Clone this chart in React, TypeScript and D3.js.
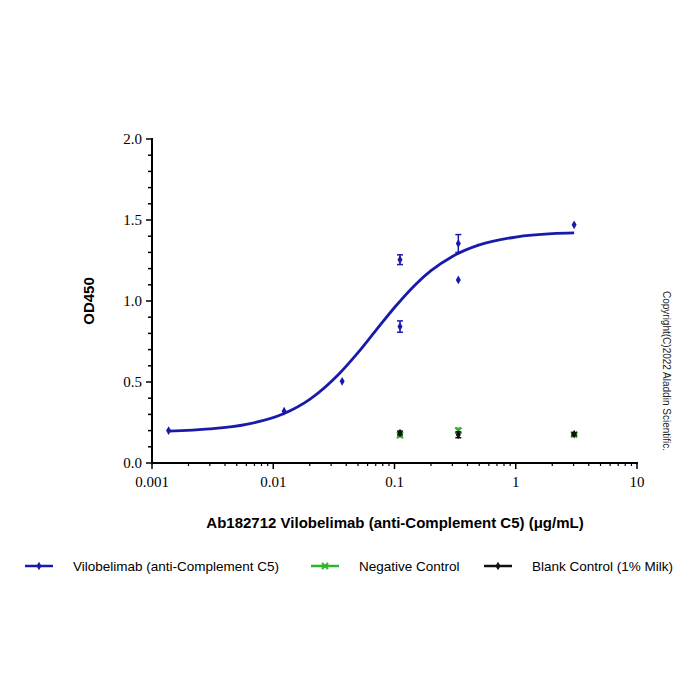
import React, { useEffect, useRef } from 'react';
import * as d3 from 'd3';

// Vilobelimab (anti-Complement C5) measured points
const vilX = [0.00137, 0.0123, 0.037, 0.111, 0.111, 0.336, 0.336, 3.03];
const vilY = [0.2, 0.32, 0.504, 1.255, 0.842, 1.355, 1.13, 1.47];
const vilErr = [0, 0, 0, 0.03, 0.035, 0.055, 0, 0];

// fitted curve
const fitX = [0.00137, 0.003, 0.006, 0.012, 0.02, 0.035, 0.05, 0.07, 0.1, 0.15, 0.2, 0.3, 0.5, 1, 2, 3.03];
const fitY = [0.197, 0.21, 0.238, 0.302, 0.393, 0.551, 0.681, 0.817, 0.96, 1.104, 1.187, 1.275, 1.346, 1.395, 1.416, 1.42];

// Negative Control
const negX = [0.111, 0.336, 3.03];
const negY = [0.172, 0.2, 0.176];
const negErr = [0.01, 0.015, 0.005];

// Blank Control (1% Milk)
const blankX = [0.111, 0.336, 3.03];
const blankY = [0.185, 0.174, 0.178];
const blankErr = [0.012, 0.018, 0.008];

const xTicks = [0.001, 0.01, 0.1, 1, 10];
const xTickLabels = ['0.001', '0.01', '0.1', '1', '10'];
const yTicks = [0, 0.5, 1.0, 1.5, 2.0];

const BLUE = '#1a1aaa';
const GREEN = '#2db52d';
const BLACK = '#111111';
const SERIF = '"Liberation Serif", "DejaVu Serif", "Times New Roman", serif';
const SANS = '"Liberation Sans", Arial, sans-serif';

const App: React.FC = () => {
  const svgRef = useRef<SVGSVGElement>(null);

  useEffect(() => {
    const svg = d3.select(svgRef.current);
    svg.selectAll('*').remove();

    const x = d3.scaleLog().domain([0.001, 10]).range([152, 637]);
    const y = d3.scaleLinear().domain([0, 2]).range([463, 139]);

    svg.append('rect').attr('width', 700).attr('height', 700).attr('fill', 'white');

    // Y axis with minor ticks
    const yMinor = d3.range(0, 2.0001, 0.1);
    svg.append('g')
      .selectAll('line')
      .data(yMinor)
      .enter()
      .append('line')
      .attr('x1', 152)
      .attr('x2', d => (yTicks.some(t => Math.abs(t - d) < 1e-6) ? 146 : 148))
      .attr('y1', d => y(d))
      .attr('y2', d => y(d))
      .attr('stroke', '#000')
      .attr('stroke-width', 1.5);

    svg.append('g')
      .selectAll('text')
      .data(yTicks)
      .enter()
      .append('text')
      .attr('x', 142)
      .attr('y', d => y(d) + 5)
      .attr('text-anchor', 'end')
      .style('font-family', SERIF)
      .style('font-size', '15px')
      .text(d => d.toFixed(1));

    svg.append('line')
      .attr('x1', 152).attr('x2', 152)
      .attr('y1', y(2) - 1).attr('y2', y(0) + 1)
      .attr('stroke', '#000').attr('stroke-width', 2);

    // X axis with log minor ticks
    const xMinor: number[] = [];
    for (let p = -3; p < 1; p++) {
      for (let m = 2; m <= 9; m++) xMinor.push(m * Math.pow(10, p));
    }
    svg.append('g')
      .selectAll('line.minor')
      .data(xMinor)
      .enter()
      .append('line')
      .attr('x1', d => x(d)).attr('x2', d => x(d))
      .attr('y1', 463).attr('y2', 466)
      .attr('stroke', '#000').attr('stroke-width', 1.2);
    svg.append('g')
      .selectAll('line.major')
      .data(xTicks)
      .enter()
      .append('line')
      .attr('x1', d => x(d)).attr('x2', d => x(d))
      .attr('y1', 463).attr('y2', 469)
      .attr('stroke', '#000').attr('stroke-width', 1.5);
    svg.append('g')
      .selectAll('text')
      .data(xTicks)
      .enter()
      .append('text')
      .attr('x', d => x(d))
      .attr('y', 487)
      .attr('text-anchor', 'middle')
      .style('font-family', SERIF)
      .style('font-size', '15px')
      .text((_, i) => xTickLabels[i]);

    svg.append('line')
      .attr('x1', 151).attr('x2', 638)
      .attr('y1', 463).attr('y2', 463)
      .attr('stroke', '#000').attr('stroke-width', 2);

    // axis titles
    svg.append('text')
      .attr('x', 395).attr('y', 528)
      .attr('text-anchor', 'middle')
      .style('font-family', SANS)
      .style('font-size', '15px')
      .style('font-weight', 'bold')
      .text('Ab182712 Vilobelimab (anti-Complement C5) (μg/mL)');

    svg.append('text')
      .attr('transform', 'translate(94,301) rotate(-90)')
      .attr('text-anchor', 'middle')
      .style('font-family', SANS)
      .style('font-size', '15px')
      .style('font-weight', 'bold')
      .text('OD450');

    // fitted curve
    const fit = fitX.map((d, i) => ({ x: d, y: fitY[i] }));
    svg.append('path')
      .datum(fit)
      .attr('fill', 'none')
      .attr('stroke', BLUE)
      .attr('stroke-width', 2.8)
      .attr('d', d3.line<{ x: number; y: number }>()
        .x(d => x(d.x))
        .y(d => y(d.y))
        .curve(d3.curveMonotoneX));

    const drawErr = (xs: number[], ys: number[], es: number[], color: string) => {
      xs.forEach((xv, i) => {
        if (!es[i]) return;
        const cx = x(xv);
        const top = y(ys[i] + es[i]);
        const bot = y(ys[i] - es[i]);
        const g = svg.append('g').attr('stroke', color).attr('stroke-width', 1.5);
        g.append('line').attr('x1', cx).attr('x2', cx).attr('y1', top).attr('y2', bot);
        g.append('line').attr('x1', cx - 3).attr('x2', cx + 3).attr('y1', top).attr('y2', top);
        g.append('line').attr('x1', cx - 3).attr('x2', cx + 3).attr('y1', bot).attr('y2', bot);
      });
    };

    const diamond = d3.symbol().type(d3.symbolDiamond).size(22);
    const cross = d3.symbol().type(d3.symbolX).size(26);

    // negative control
    drawErr(negX, negY, negErr, GREEN);
    svg.append('g')
      .selectAll('path')
      .data(negX)
      .enter()
      .append('path')
      .attr('transform', (d, i) => `translate(${x(d)},${y(negY[i])})`)
      .attr('d', cross()!)
      .attr('stroke', GREEN)
      .attr('stroke-width', 2)
      .attr('fill', 'none');

    // blank control
    drawErr(blankX, blankY, blankErr, BLACK);
    svg.append('g')
      .selectAll('path')
      .data(blankX)
      .enter()
      .append('path')
      .attr('transform', (d, i) => `translate(${x(d)},${y(blankY[i])})`)
      .attr('d', diamond()!)
      .attr('fill', BLACK);

    // vilobelimab
    drawErr(vilX, vilY, vilErr, BLUE);
    svg.append('g')
      .selectAll('path')
      .data(vilX)
      .enter()
      .append('path')
      .attr('transform', (d, i) => `translate(${x(d)},${y(vilY[i])})`)
      .attr('d', diamond()!)
      .attr('fill', BLUE);

    // legend
    const legend = [
      { label: 'Vilobelimab (anti-Complement C5)', color: BLUE, x0: 25, sym: diamond, filled: true },
      { label: 'Negative Control', color: GREEN, x0: 311, sym: cross, filled: false },
      { label: 'Blank Control (1% Milk)', color: BLACK, x0: 484, sym: diamond, filled: true },
    ];
    const lg = svg.append('g').attr('transform', 'translate(0,566)');
    legend.forEach(item => {
      lg.append('line')
        .attr('x1', item.x0).attr('x2', item.x0 + 28)
        .attr('y1', 0).attr('y2', 0)
        .attr('stroke', item.color).attr('stroke-width', 2.5);
      lg.append('path')
        .attr('transform', `translate(${item.x0 + 14},0)`)
        .attr('d', item.sym()!)
        .attr('fill', item.filled ? item.color : 'none')
        .attr('stroke', item.filled ? 'none' : item.color)
        .attr('stroke-width', 2);
      lg.append('text')
        .attr('x', item.x0 + 48)
        .attr('y', 5)
        .style('font-family', SANS)
        .style('font-size', '13.5px')
        .text(item.label);
    });

    // copyright
    svg.append('text')
      .attr('transform', 'translate(663,371) rotate(90)')
      .attr('text-anchor', 'middle')
      .style('font-family', SANS)
      .style('font-size', '10px')
      .style('fill', '#222')
      .text('Copyright(C)2022 Aladdin Scientific.');
  }, []);

  return (
    <svg
      ref={svgRef}
      width={700}
      height={700}
      style={{ position: 'absolute', left: 0, top: 0 }}
    />
  );
};

export default App;
